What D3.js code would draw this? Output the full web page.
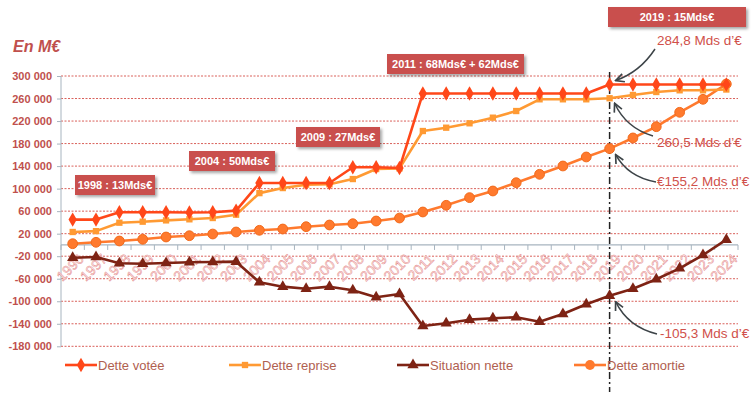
<!DOCTYPE html>
<html lang="fr">
<head>
<meta charset="UTF-8">
<script src="https://cdn.jsdelivr.net/npm/d3@7"></script>
<style>
    body { margin: 0; background: #fff; }
    svg { display: block; font-family: "Liberation Sans", Arial, sans-serif; }
</style>
</head>
<body>
<div id="wrap"></div>
<script>
// données (M€)
var years = d3.range(1996, 2025);
var detteVotee = [45000, 45000, 58000, 58000, 58000, 57500, 58000, 61000, 110000, 110000, 110000, 110000, 138000, 138000, 136500,
    269000, 269000, 269000, 269000, 269000, 269000, 269000, 269000, 284800, 284800, 284800, 284800, 284800, 284800];
var detteReprise = [23000, 24500, 39500, 41300, 43600, 45500, 47800, 53700, 92000, 101000, 107000, 107700, 117000, 134800, 136000,
    202300, 208200, 216000, 226000, 237800, 258600, 258600, 258600, 260500, 266300, 271600, 274600, 274600, 276000];
var situationNette = [-22700, -21400, -32600, -33300, -32000, -30800, -30300, -29700, -66300, -74100, -77700, -74100, -80500, -93000, -87100,
    -144000, -139200, -132700, -130300, -128500, -136300, -122600, -105400, -90100, -77700, -61000, -41500, -17900, 9300];
var detteAmortie = [2200, 4700, 7000, 10000, 14100, 16400, 19400, 23000, 26000, 28300, 32400, 35400, 37700, 42500, 47800,
    58500, 70400, 84000, 95800, 110500, 125400, 140200, 156200, 171000, 190000, 210000, 235500, 258600, 285800];
var yTicks = [-180000, -140000, -100000, -60000, -20000, 20000, 60000, 100000, 140000, 180000, 220000, 260000, 300000];
var boxes = [
    { text: '1998 : 13Mds€', x: 75, y: 175, w: 80 },
    { text: '2004 : 50Mds€', x: 189, y: 151, w: 86 },
    { text: '2009 : 27Mds€', x: 296, y: 127, w: 84 },
    { text: '2011 : 68Mds€ + 62Mds€', x: 387, y: 54, w: 137 },
    { text: '2019 : 15Mds€', x: 608, y: 7, w: 138 }
];

var WIDTH = 754, HEIGHT = 396;
var svg = d3.select('#wrap').append('svg').attr('width', WIDTH).attr('height', HEIGHT);

var x = d3.scaleBand().domain(years).range([61, 738]);
var y = d3.scaleLinear().domain([-180000, 300000]).range([346.3, 76]);
var cx = function(i) { return x(years[i]) + x.bandwidth() / 2; };

var defs = svg.append('defs');
var sh = defs.append('filter').attr('id', 'shadow').attr('x', '-10%').attr('y', '-20%').attr('width', '130%').attr('height', '160%');
sh.append('feDropShadow').attr('dx', 2).attr('dy', 2).attr('stdDeviation', 1.5).attr('flood-color', '#000').attr('flood-opacity', 0.35);
defs.append('marker').attr('id', 'arrow').attr('viewBox', '0 0 10 10').attr('refX', 9).attr('refY', 5)
    .attr('markerWidth', 7).attr('markerHeight', 7).attr('orient', 'auto')
    .append('path').attr('d', 'M1,1 L9,5 L1,9').attr('fill', 'none').attr('stroke', '#3d4448').attr('stroke-width', 1.6);

// titre
svg.append('text').attr('x', 13).attr('y', 52).text('En M€')
    .attr('fill', '#c0504d').attr('font-size', 16).attr('font-weight', 'bold').attr('font-style', 'italic');

// grille
svg.append('g').selectAll('line').data(yTicks).enter().append('line')
    .attr('x1', 61).attr('x2', 738).attr('y1', function(d) { return y(d); }).attr('y2', function(d) { return y(d); })
    .attr('stroke', '#d9605a').attr('stroke-width', 1).attr('stroke-dasharray', '2,1.5');

// axe y
var yAxis = svg.append('g').attr('transform', 'translate(61,0)')
    .call(d3.axisLeft(y).tickValues(yTicks).tickSize(4).tickPadding(5)
        .tickFormat(function(d) { return d3.format(',')(d).replace(/,/g, ' ').replace('−', '-'); }));
yAxis.select('.domain').attr('stroke', '#a7b4bf').attr('d', 'M0,' + y(300000) + 'V' + y(-180000));
yAxis.selectAll('.tick line').attr('stroke', '#a7b4bf');
yAxis.selectAll('text').attr('fill', '#c0504d').attr('font-size', 11).attr('font-weight', 'bold')
    .attr('font-family', '"Liberation Sans", Arial, sans-serif');

// axe x (à zéro)
var xAxis = svg.append('g').attr('transform', 'translate(0,' + y(0) + ')');
xAxis.append('line').attr('x1', 61).attr('x2', 738).attr('stroke', '#a7b4bf').attr('stroke-width', 1.2);
xAxis.selectAll('.tk').data(years.concat([2025])).enter().append('line')
    .attr('x1', function(d, i) { return 61 + i * x.bandwidth(); })
    .attr('x2', function(d, i) { return 61 + i * x.bandwidth(); })
    .attr('y1', 0).attr('y2', 5).attr('stroke', '#a7b4bf');
xAxis.selectAll('text').data(years).enter().append('text')
    .attr('transform', function(d, i) { return 'translate(' + (cx(i) + 5) + ',8) rotate(-45)'; })
    .attr('text-anchor', 'end').attr('dy', '0.7em')
    .attr('font-size', 14).attr('fill', '#fdeeee').attr('stroke', '#e69090').attr('stroke-width', 0.5)
    .text(function(d) { return d; });

// ligne verticale 2019
var x19 = cx(years.indexOf(2019));
svg.append('line').attr('x1', x19).attr('x2', x19).attr('y1', 72).attr('y2', 392)
    .attr('stroke', '#222').attr('stroke-width', 1.5).attr('stroke-dasharray', '7,3,2,3');

// séries
var series = [
    { name: 'Dette votée', values: detteVotee, color: '#ff4719', marker: 'diamond', size: 60 },
    { name: 'Dette reprise', values: detteReprise, color: '#ff9a33', marker: 'square', size: 40 },
    { name: 'Situation nette', values: situationNette, color: '#7e2314', marker: 'triangle', size: 55 },
    { name: 'Dette amortie', values: detteAmortie, color: '#ff7a2e', marker: 'circle', size: 75 }
];
var symbols = { diamond: d3.symbolDiamond, square: d3.symbolSquare, triangle: d3.symbolTriangle, circle: d3.symbolCircle };
var line = d3.line().x(function(d, i) { return cx(i); }).y(function(d) { return y(d); });

// ordre de dessin
[2, 3, 1, 0].forEach(function(k) {
    var s = series[k];
    var g = svg.append('g');
    g.append('path').datum(s.values).attr('d', line).attr('fill', 'none')
        .attr('stroke', s.color).attr('stroke-width', 2.6).attr('stroke-linejoin', 'round');
    g.selectAll('path.m').data(s.values).enter().append('path').attr('class', 'm')
        .attr('d', d3.symbol().type(symbols[s.marker]).size(s.size))
        .attr('transform', function(d, i) { return 'translate(' + cx(i) + ',' + y(d) + ')'; })
        .attr('fill', s.color)
        .attr('stroke', s.marker === 'circle' ? '#f26a1b' : 'none').attr('stroke-width', 1);
});

// légende
var legendX = [65, 229, 397, 574];
var lg = svg.append('g').attr('transform', 'translate(0,365)');
series.forEach(function(s, k) {
    var g = lg.append('g').attr('transform', 'translate(' + legendX[k] + ',0)');
    g.append('line').attr('x1', 0).attr('x2', 32).attr('stroke', s.color).attr('stroke-width', 2.6);
    g.append('path').attr('d', d3.symbol().type(symbols[s.marker]).size(s.size)).attr('transform', 'translate(16,0)')
        .attr('fill', s.color);
    g.append('text').attr('x', 33).attr('dy', '0.35em').attr('font-size', 13).attr('fill', '#b06050').text(s.name);
});

// encadrés
var bg = svg.append('g').selectAll('g').data(boxes).enter().append('g')
    .attr('transform', function(d) { return 'translate(' + d.x + ',' + d.y + ')'; });
bg.append('rect').attr('width', function(d) { return d.w; }).attr('height', 20)
    .attr('fill', '#c9504e').attr('filter', 'url(#shadow)');
bg.append('text').attr('x', function(d) { return d.w / 2; }).attr('y', 10).attr('dy', '0.35em')
    .attr('text-anchor', 'middle').attr('fill', '#fff').attr('font-size', 11).attr('font-weight', 'bold')
    .text(function(d) { return d.text; });

// annotations
var i19 = years.indexOf(2019);
var notes = [
    { text: '284,8 Mds d\u2019€', tx: 657, ty: 45, from: [655, 49], to: [x19 + 6, y(detteVotee[i19]) - 4], c: [640, 72] },
    { text: '260,5 Mds d\u2019€', tx: 657, ty: 147, from: [653, 136], to: [x19 + 5, y(detteReprise[i19]) + 5], c: [626, 128] },
    { text: '€155,2 Mds d\u2019€', tx: 657, ty: 186, from: [656, 182], to: [x19 + 6, y(detteAmortie[i19]) + 6], c: [628, 177] },
    { text: '-105,3 Mds d\u2019€', tx: 660, ty: 338, from: [657, 334], to: [x19 + 6, y(situationNette[i19]) + 6], c: [628, 327] }
];
var ng = svg.append('g');
notes.forEach(function(n) {
    ng.append('path').attr('d', 'M' + n.from + 'Q' + n.c + ' ' + n.to).attr('fill', 'none')
        .attr('stroke', '#3d4448').attr('stroke-width', 1.5).attr('marker-end', 'url(#arrow)');
    ng.append('text').attr('x', n.tx).attr('y', n.ty).attr('font-size', 13.5).attr('fill', '#d0504a').text(n.text);
});
</script>
</body>
</html>
